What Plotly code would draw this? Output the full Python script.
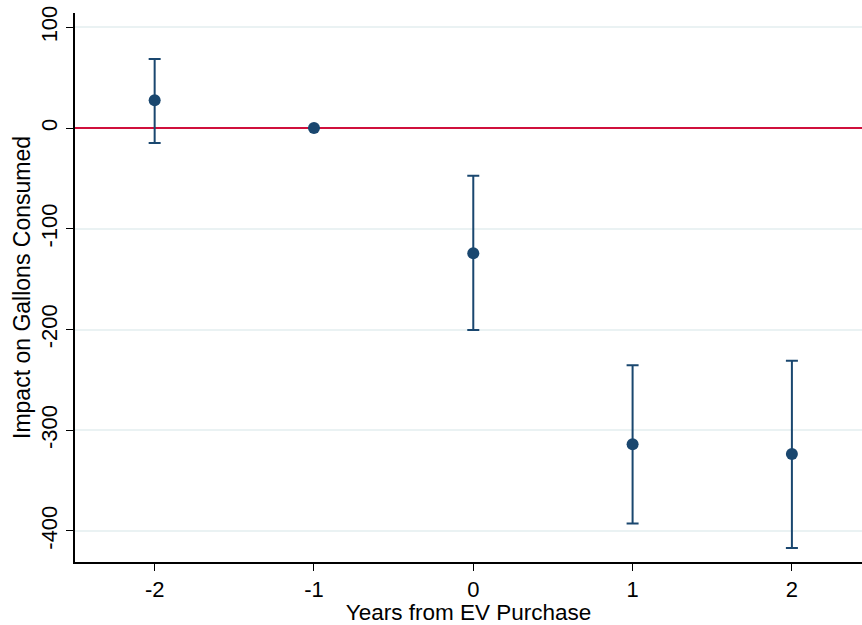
import plotly.graph_objects as go

years = [-2, -1, 0, 1, 2]
estimate = [27.5, 0.0, -124.4, -314.0, -323.7]
ci_upper = [68.5, 0.0, -47.4, -235.5, -231.0]
ci_lower = [-14.8, 0.0, -200.6, -392.5, -416.8]
y_ticks = [100, 0, -100, -200, -300, -400]
x_ticks = [-2, -1, 0, 1, 2]

navy = "#1a476f"
err_plus = [u - e for u, e in zip(ci_upper, estimate)]
err_minus = [e - l for e, l in zip(estimate, ci_lower)]

fig = go.Figure()
fig.add_trace(go.Scatter(
    x=years, y=estimate, mode="markers",
    marker=dict(color=navy, size=12),
    error_y=dict(type="data", symmetric=False, array=err_plus, arrayminus=err_minus,
                 color=navy, thickness=2, width=6),
    showlegend=False,
))

fam = "Liberation Sans, Arial, Helvetica, sans-serif"
tickfont = dict(family=fam, size=22, color="#000")
fig.update_layout(
    width=862, height=625,
    margin=dict(l=75, r=0, t=13, b=63),
    paper_bgcolor="white", plot_bgcolor="white",
    font=dict(family=fam, size=22, color="#000"),
    xaxis=dict(range=[-2.5, 2.44], tickvals=x_ticks, ticktext=[str(v) for v in x_ticks],
               tickfont=tickfont, ticks="outside", ticklen=7,
               tickwidth=1, tickcolor="#000", showline=True, linecolor="#000",
               linewidth=1.5, showgrid=False, zeroline=False, automargin=False,
               title=dict(text="Years from EV Purchase", standoff=0,
                          font=dict(family=fam, size=22.5, color="#000"))),
    yaxis=dict(range=[-430.8, 114.2], tickvals=y_ticks, ticktext=[str(v) for v in y_ticks],
               tickfont=tickfont, ticks="outside", ticklen=7,
               tickwidth=1, tickcolor="#000", tickangle=-90, showline=True,
               linecolor="#000", linewidth=1.5, showgrid=True, gridcolor="#eaf2f3",
               gridwidth=1.5, zeroline=True, zerolinecolor="#d0103c", zerolinewidth=2,
               automargin=False,
               title=dict(text="Impact on Gallons Consumed", standoff=0,
                          font=dict(family=fam, size=23, color="#000"))),
)
fig.write_html("out.html", post_script="document.body.style.margin='0px';",
               config={"displayModeBar": False})
